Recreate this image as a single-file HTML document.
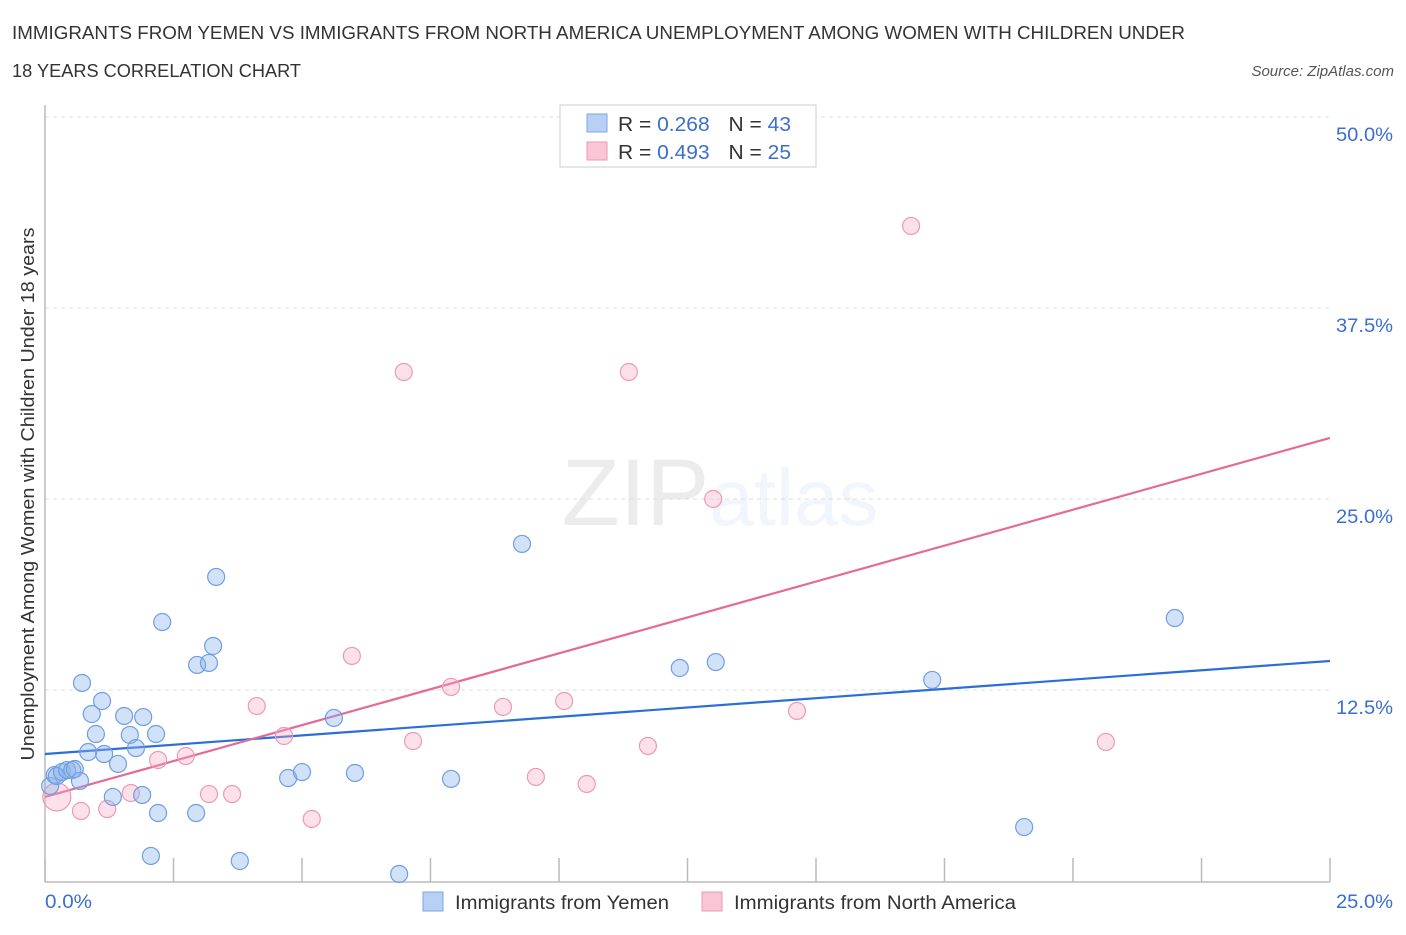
<!DOCTYPE html>
<html><head><meta charset="utf-8"><style>
body{margin:0;background:#fff;font-family:"Liberation Sans",sans-serif}
svg text{font-family:"Liberation Sans",sans-serif}
</style></head><body>
<svg id="chart" width="1406" height="930" xmlns="http://www.w3.org/2000/svg">
<text x="12" y="39" font-size="18" fill="#333" textLength="1173" lengthAdjust="spacingAndGlyphs">IMMIGRANTS FROM YEMEN VS IMMIGRANTS FROM NORTH AMERICA UNEMPLOYMENT AMONG WOMEN WITH CHILDREN UNDER</text>
<text x="12" y="77" font-size="18" fill="#333" textLength="289" lengthAdjust="spacingAndGlyphs">18 YEARS CORRELATION CHART</text>
<text x="1394" y="76" font-size="15" fill="#555" font-style="italic" text-anchor="end">Source: ZipAtlas.com</text>
<text x="720" y="525" font-size="95" text-anchor="middle" fill="#000" opacity="0.07" font-family="Liberation Serif">ZIP<tspan fill="#4a80d8" opacity="1.6" font-family="Liberation Sans" font-size="80">atlas</tspan></text>
<g id="grid"></g>
<line x1="45" y1="105" x2="45" y2="882" stroke="#bbb" stroke-width="1.5"/>
<line x1="45" y1="882" x2="1330" y2="882" stroke="#bbb" stroke-width="1.5"/>
<text transform="translate(34,494) rotate(-90)" font-size="18" fill="#333" text-anchor="middle" textLength="533" lengthAdjust="spacingAndGlyphs">Unemployment Among Women with Children Under 18 years</text>
<g id="ticks"></g>
<g id="trends"></g>
<g id="points"></g>
<g>
<rect x="560" y="105" width="256" height="62" fill="#fff" stroke="#ccc"/>
<rect x="587" y="114" width="20" height="18" fill="#b8d0f4" stroke="#7aa6e6"/>
<rect x="587" y="142" width="20" height="18" fill="#f9c6d6" stroke="#ec9ab4"/>
<text x="618" y="131" font-size="20" fill="#333" textLength="173" lengthAdjust="spacingAndGlyphs">R = <tspan fill="#3a6fd0">0.268</tspan><tspan dx="18">N = </tspan><tspan fill="#3a6fd0">43</tspan></text>
<text x="618" y="159" font-size="20" fill="#333" textLength="173" lengthAdjust="spacingAndGlyphs">R = <tspan fill="#3a6fd0">0.493</tspan><tspan dx="18">N = </tspan><tspan fill="#3a6fd0">25</tspan></text>
</g>
<g>
<rect x="423" y="892" width="20" height="19" fill="#b8d0f4" stroke="#7aa6e6"/>
<text x="455" y="909" font-size="19" fill="#333" textLength="214" lengthAdjust="spacingAndGlyphs">Immigrants from Yemen</text>
<rect x="702" y="892" width="20" height="19" fill="#f9c6d6" stroke="#ec9ab4"/>
<text x="734" y="909" font-size="19" fill="#333" textLength="282" lengthAdjust="spacingAndGlyphs">Immigrants from North America</text>
</g>
</svg>
<script>
const xTicks=[0,2.5,5,7.5,10,12.5,15,17.5,20,22.5,25];
const yGrid=[12.5,25,37.5,50];
const yTickLabels=["12.5%","25.0%","37.5%","50.0%"];
const xTickLabels=["0.0%","25.0%"];
const yemenX=[0.10,0.19,0.23,0.33,0.43,0.53,0.58,0.68,0.72,0.84,0.91,0.99,1.11,1.15,1.32,1.42,1.54,1.65,1.77,1.91,1.89,2.06,2.16,2.20,2.28,2.94,2.96,3.19,3.27,3.33,3.79,4.73,5.00,5.62,6.03,6.89,7.90,9.28,12.35,13.05,17.26,19.05,21.98];
const yemenY=[6.22,6.94,6.87,7.13,7.26,7.26,7.33,6.55,12.96,8.44,10.93,9.62,11.78,8.31,5.50,7.66,10.80,9.56,8.70,10.73,5.63,1.64,9.62,4.45,16.95,4.45,14.14,14.27,15.38,19.90,1.31,6.74,7.13,10.67,7.07,0.46,6.68,22.06,13.94,14.33,13.16,3.53,17.21];
const naX=[0.23,0.70,1.21,1.67,2.20,2.74,3.19,3.64,4.12,4.65,5.19,5.97,6.98,7.16,7.90,8.91,9.55,10.10,10.54,11.36,11.73,13.00,14.63,16.85,20.64];
const naY=[5.50,4.58,4.71,5.76,7.92,8.18,5.69,5.69,11.45,9.49,4.06,14.73,33.31,9.16,12.70,11.39,6.81,11.78,6.35,33.31,8.84,25.00,11.13,42.87,9.10];
const naR=[14,8.5,8.5,8.5,8.5,8.5,8.5,8.5,8.5,8.5,8.5,8.5,8.5,8.5,8.5,8.5,8.5,8.5,8.5,8.5,8.5,8.5,8.5,8.5,8.5];
const yemenTrend=[8.31,14.40];
const naTrend=[5.50,29.0];
const NS="http://www.w3.org/2000/svg";
const sx=v=>45+v/25*1285;
const sy=v=>881-v/12.5*191;
function mk(tag,attrs,parent){const e=document.createElementNS(NS,tag);for(const k in attrs)e.setAttribute(k,attrs[k]);document.getElementById(parent).appendChild(e);return e;}
yGrid.forEach((v,i)=>{
 const l=mk('line',{x1:45,x2:1330,y1:sy(v),y2:sy(v),stroke:'#ddd','stroke-dasharray':'4,4'},'grid');
 
 
 const t=mk('text',{x:1393,y:sy(v)+24,'font-size':19,fill:'#3a6fd0','text-anchor':'end',textLength:57,lengthAdjust:'spacingAndGlyphs'},'ticks');
 t.textContent=yTickLabels[i];
 
 
});
xTicks.forEach(v=>{
 const l=mk('line',{x1:sx(v),x2:sx(v),y1:858,y2:882,stroke:'#bbb','stroke-width':1.5},'ticks');
 
 
});
[[0,'start',45,47],[25,'end',1393,57]].forEach((p,i)=>{
 const t=mk('text',{x:p[2],y:908,'font-size':19,fill:'#3a6fd0','text-anchor':p[1],textLength:p[3],lengthAdjust:'spacingAndGlyphs'},'ticks');
 t.textContent=xTickLabels[i];
 
 
});
const tl1=mk('line',{x1:sx(0),y1:sy(yemenTrend[0]),x2:sx(25),y2:sy(yemenTrend[1]),stroke:'#2a6fd6','stroke-width':2.2},'trends');


const tl2=mk('line',{x1:sx(0),y1:sy(naTrend[0]),x2:sx(25),y2:sy(naTrend[1]),stroke:'#e56a94','stroke-width':2.2},'trends');


naX.forEach((x,i)=>{
 const c=mk('circle',{cx:sx(x),cy:sy(naY[i]),r:naR[i],fill:'rgba(246,170,196,0.35)',stroke:'#ec9ab4','stroke-width':1.2},'points');
 
 
});
yemenX.forEach((x,i)=>{
 const c=mk('circle',{cx:sx(x),cy:sy(yemenY[i]),r:8.5,fill:'rgba(140,180,236,0.4)',stroke:'#6f9fe2','stroke-width':1.2},'points');
 
 
});
</script>
</body></html>
